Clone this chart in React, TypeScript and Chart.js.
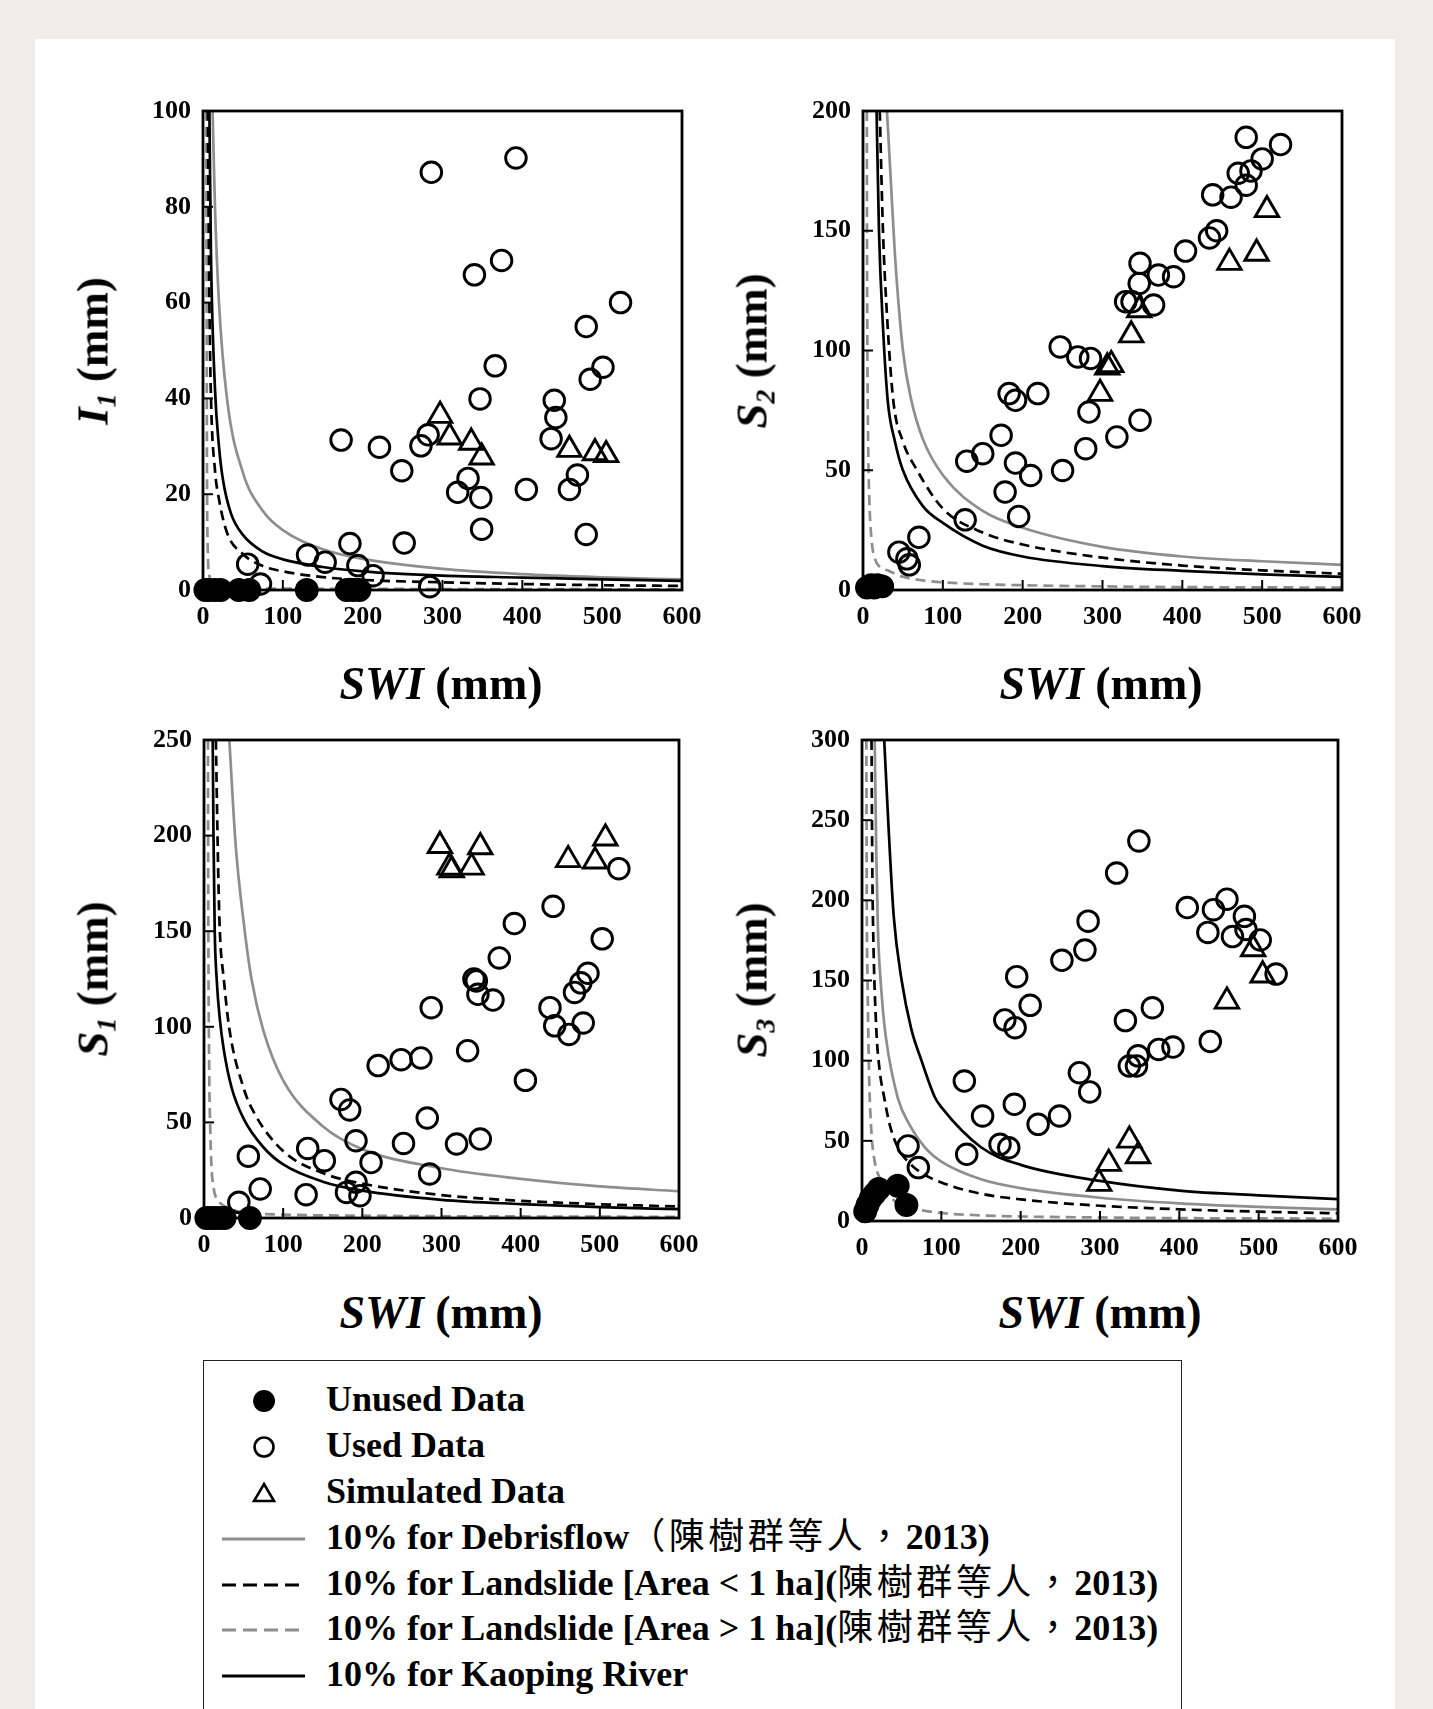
import React, { useEffect, useRef } from 'react';
import { Chart, registerables } from 'chart.js';
Chart.register(...registerables);

const FONT = '"Liberation Serif", "Times New Roman", serif';
const CJK = '"Noto Sans CJK TC", "Noto Sans CJK SC", sans-serif';

// ---------- Panel 1 : I1 ----------
const p1UnusedX = [3, 8, 15, 22, 45, 58, 130, 180, 188, 196];
const p1UnusedY = [0, 0, 0, 0, 0, 0, 0, 0, 0, 0];
const p1UsedX = [286, 392, 340, 374, 523, 480, 366, 501, 485, 347, 440, 442, 436, 173, 221, 273, 282, 249, 332, 319, 348, 405, 459, 469, 349, 480, 184, 252, 131, 153, 56, 194, 213, 72, 284];
const p1UsedY = [87.2, 90.2, 65.8, 68.8, 60, 55, 46.8, 46.5, 44, 39.9, 39.6, 36, 31.6, 31.3, 29.8, 30.1, 32.4, 24.9, 23.3, 20.4, 19.3, 21, 21, 24, 12.7, 11.6, 9.7, 9.8, 7.3, 5.8, 5.4, 5.1, 3, 1.25, 0.7];
const p1SimX = [297, 309, 336, 349, 459, 491, 505];
const p1SimY = [36.4, 31.9, 30.8, 27.7, 29.3, 28.6, 28.2];
const p1DebrisX = [12, 15, 20, 30, 50, 75, 100, 150, 200, 300, 400, 500, 600];
const p1DebrisY = [100, 80, 60, 40, 24.5, 16.5, 12.5, 8.5, 6.5, 4.4, 3.3, 2.65, 2.2];
const p1SmallX = [6, 8, 10, 15, 20, 30, 50, 75, 100, 150, 200, 300, 400, 500, 600];
const p1SmallY = [100, 60, 40, 25, 19, 12, 7.5, 5, 3.9, 2.7, 2.1, 1.6, 1.25, 1.0, 0.85];
const p1LargeX = [4, 4.5, 5, 6, 8, 10, 20, 50, 100, 300, 600];
const p1LargeY = [100, 60, 25, 8, 3, 1.6, 0.8, 0.4, 0.3, 0.2, 0.15];
const p1KaopingX = [8, 10, 15, 20, 25, 35, 50, 75, 100, 150, 200, 300, 400, 500, 600];
const p1KaopingY = [100, 70, 42, 30, 23, 16, 11.5, 8, 6.4, 4.8, 3.9, 3.0, 2.6, 2.2, 1.9];

// ---------- Panel 2 : S2 ----------
const p2UnusedX = [5, 10, 14, 18, 24];
const p2UnusedY = [1, 2, 1, 2, 1.5];
const p2UsedX = [480, 523, 500, 486, 470, 480, 461, 438, 443, 434, 404, 389, 370, 347, 346, 329, 337, 364, 247, 269, 285, 183, 191, 219, 283, 347, 173, 318, 279, 150, 130, 191, 210, 250, 178, 195, 128, 70, 45, 55, 58];
const p2UsedY = [189, 186, 180, 175, 174, 169, 164, 165, 150, 147, 141.5, 130.8, 131.5, 136.4, 128, 120.4, 120.4, 119, 101.5, 97.3, 96.7, 82, 79.2, 82, 74.3, 70.9, 64.6, 63.9, 59, 56.9, 53.8, 53, 47.8, 49.9, 40.9, 30.7, 29.3, 22, 15.8, 13, 10.5];
const p2SimX = [506, 493, 459, 346, 336, 306, 311, 297];
const p2SimY = [158.7, 140.5, 136.7, 116.9, 106.4, 93, 94, 82];
const p2DebrisX = [30, 35, 40, 50, 60, 75, 100, 150, 200, 300, 400, 500, 600];
const p2DebrisY = [200, 170, 140, 100, 80, 63, 48, 33, 26, 18, 14, 12, 10.5];
const p2SmallX = [21, 25, 30, 38, 50, 66, 100, 150, 200, 300, 400, 500, 600];
const p2SmallY = [200, 150, 115, 79, 62, 51, 34, 24, 19, 13.5, 10.2, 8.2, 6.8];
const p2LargeX = [4.8, 5, 5.5, 6.5, 8, 11, 15, 20, 32, 50, 75, 100, 150, 200, 300, 400, 500, 600];
const p2LargeY = [200, 150, 100, 60, 37, 20, 13, 10, 8, 5.5, 4, 3.2, 2.4, 2, 1.5, 1.2, 1.1, 1.0];
const p2KaopingX = [17, 20, 25, 31, 40, 50, 75, 100, 150, 200, 300, 400, 500, 600];
const p2KaopingY = [200, 150, 110, 79, 62, 50, 35, 28, 18.5, 14, 10, 8, 6.5, 5.5];

// ---------- Panel 3 : S1 ----------
const p3UnusedX = [3, 8, 14, 20, 26, 58];
const p3UnusedY = [0, 0, 0, 0, 0, 0];
const p3UsedX = [524, 441, 392, 503, 373, 341, 344, 346, 365, 287, 485, 476, 468, 437, 443, 461, 479, 333, 220, 249, 274, 406, 173, 184, 282, 192, 252, 319, 349, 131, 56, 152, 211, 285, 192, 180, 197, 129, 71, 44];
const p3UsedY = [182.7, 163, 154, 146, 136, 125, 124, 117, 114, 110, 128, 123, 118, 110, 100.5, 96, 102, 87.5, 79.7, 82.8, 83.7, 72, 62, 56.5, 52.3, 40.4, 39, 38.7, 41.3, 36.4, 32.3, 30, 29, 23, 18.7, 13.4, 11.7, 12.2, 15.2, 8.2];
const p3SimX = [298, 310, 313, 349, 338, 460, 507, 494];
const p3SimY = [194.7, 183.4, 182, 194, 183.4, 187.3, 198.6, 186.6];
const p3DebrisX = [32, 40, 50, 60, 75, 100, 150, 200, 300, 400, 500, 600];
const p3DebrisY = [250, 195, 155, 125, 98, 72, 48, 36, 26, 20.5, 16.5, 14];
const p3SmallX = [15, 18, 20, 25, 32, 50, 64, 100, 150, 200, 300, 400, 500, 600];
const p3SmallY = [250, 180, 150, 125, 99, 68, 54.5, 35, 23.5, 18, 12, 9, 7.2, 6];
const p3LargeX = [5, 5.5, 6.5, 8, 9.3, 12, 16, 22, 35, 50, 100, 200, 400, 600];
const p3LargeY = [250, 150, 80, 45, 28, 16, 10, 7.3, 4.5, 3, 1.8, 1.2, 0.8, 0.6];
const p3KaopingX = [11, 12, 13.5, 16, 20, 25, 35, 50, 75, 100, 150, 200, 300, 400, 500, 600];
const p3KaopingY = [250, 200, 151, 125, 104, 88, 68, 52, 37, 28, 19, 14.3, 9.5, 7.3, 5.7, 4.6];

// ---------- Panel 4 : S3 ----------
const p4UnusedX = [4, 7, 11, 16, 21, 45, 56];
const p4UnusedY = [6, 10, 14, 17, 20, 22, 10];
const p4UsedX = [349, 321, 285, 281, 252, 195, 212, 180, 193, 366, 332, 392, 374, 348, 337, 346, 274, 287, 129, 192, 152, 249, 222, 174, 185, 132, 58, 71, 460, 410, 443, 482, 436, 467, 484, 502, 522, 439];
const p4UsedY = [237, 217, 187, 169, 162.6, 152.4, 134.5, 125.4, 120.6, 133, 125, 108.5, 107, 103, 96.7, 96.7, 92.5, 80.5, 87.3, 72.8, 65.5, 65.5, 60.3, 47.8, 45.7, 41.6, 46.8, 33.3, 200.7, 195.5, 194.2, 190, 180, 177.4, 181.8, 175.3, 154, 112];
const p4SimX = [337, 348, 311, 299, 493, 505, 460];
const p4SimY = [50.3, 40.5, 35.8, 23.3, 169.6, 153.3, 137];
const p4DebrisX = [16, 18, 20, 25, 30, 45, 60, 79, 100, 150, 200, 300, 400, 500, 600];
const p4DebrisY = [300, 230, 183, 140, 115, 77, 60, 46, 37, 26, 20.5, 14.5, 11, 8.8, 7.3];
const p4SmallX = [12, 13, 14, 18, 22, 28, 35, 45, 60, 75, 100, 150, 200, 300, 400, 500, 600];
const p4SmallY = [300, 220, 183, 120, 95, 77, 60, 46, 36, 30, 24, 17, 13.5, 9.5, 7.3, 5.8, 4.8];
const p4LargeX = [5.5, 6, 7, 9, 11.8, 15, 24, 41, 60, 96, 150, 200, 300, 400, 600];
const p4LargeY = [300, 200, 150, 90, 56, 40, 25, 12.5, 8.5, 5.2, 3.5, 2.8, 2.2, 1.8, 1.5];
const p4KaopingX = [28, 33, 40, 50, 62, 75, 92, 100, 150, 200, 300, 400, 500, 600];
const p4KaopingY = [300, 250, 190, 150, 120, 100, 77, 71, 46, 35, 25, 19, 16, 13.7];

const xMax = 600;
const xStep = 100;

const legendLabels = [
  'Unused Data',
  'Used Data',
  'Simulated Data',
];

const zip = (xs: number[], ys: number[]) => xs.map((x, i) => ({ x, y: ys[i] }));

type PanelDef = {
  rect: { l: number; t: number; r: number; b: number };
  yMax: number;
  yStep: number;
  unused: [number[], number[]];
  used: [number[], number[]];
  sim: [number[], number[]];
  debris: [number[], number[]];
  small: [number[], number[]];
  large: [number[], number[]];
  kaoping: [number[], number[]];
};

const panels: PanelDef[] = [
  { rect: { l: 203, t: 111, r: 682, b: 590 }, yMax: 100, yStep: 20,
    unused: [p1UnusedX, p1UnusedY], used: [p1UsedX, p1UsedY], sim: [p1SimX, p1SimY],
    debris: [p1DebrisX, p1DebrisY], small: [p1SmallX, p1SmallY], large: [p1LargeX, p1LargeY], kaoping: [p1KaopingX, p1KaopingY] },
  { rect: { l: 863, t: 111, r: 1342, b: 590 }, yMax: 200, yStep: 50,
    unused: [p2UnusedX, p2UnusedY], used: [p2UsedX, p2UsedY], sim: [p2SimX, p2SimY],
    debris: [p2DebrisX, p2DebrisY], small: [p2SmallX, p2SmallY], large: [p2LargeX, p2LargeY], kaoping: [p2KaopingX, p2KaopingY] },
  { rect: { l: 204, t: 740, r: 679, b: 1218 }, yMax: 250, yStep: 50,
    unused: [p3UnusedX, p3UnusedY], used: [p3UsedX, p3UsedY], sim: [p3SimX, p3SimY],
    debris: [p3DebrisX, p3DebrisY], small: [p3SmallX, p3SmallY], large: [p3LargeX, p3LargeY], kaoping: [p3KaopingX, p3KaopingY] },
  { rect: { l: 862, t: 740, r: 1338, b: 1221 }, yMax: 300, yStep: 50,
    unused: [p4UnusedX, p4UnusedY], used: [p4UsedX, p4UsedY], sim: [p4SimX, p4SimY],
    debris: [p4DebrisX, p4DebrisY], small: [p4SmallX, p4SmallY], large: [p4LargeX, p4LargeY], kaoping: [p4KaopingX, p4KaopingY] },
];

const PAD_L = 100, PAD_T = 40, PAD_R = 50, PAD_B = 50;
const GRAY = '#8e8e8e';

const framePlugin = {
  id: 'frame',
  afterDatasetsDraw(chart: any) {
    const { ctx, chartArea: a, scales } = chart;
    ctx.save();
    ctx.strokeStyle = '#000';
    ctx.lineWidth = 2;
    const ys = scales.y;
    ys.ticks.forEach((t: any) => {
      if (t.value > ys.min && t.value < ys.max) {
        const y = ys.getPixelForValue(t.value);
        ctx.beginPath(); ctx.moveTo(a.left, y); ctx.lineTo(a.left + 10, y); ctx.stroke();
      }
    });
    const xs = scales.x;
    xs.ticks.forEach((t: any) => {
      if (t.value > xs.min && t.value < xs.max) {
        const x = xs.getPixelForValue(t.value);
        ctx.beginPath(); ctx.moveTo(x, a.bottom); ctx.lineTo(x, a.bottom - 10); ctx.stroke();
      }
    });
    ctx.lineWidth = 2.8;
    ctx.strokeRect(a.left, a.top, a.right - a.left, a.bottom - a.top);
    ctx.restore();
  },
};

function Panel({ def }: { def: PanelDef }) {
  const ref = useRef<HTMLCanvasElement | null>(null);
  const { l, t, r, b } = def.rect;
  const w = r - l + PAD_L + PAD_R;
  const h = b - t + PAD_T + PAD_B;
  useEffect(() => {
    if (!ref.current) return;
    const marker = (data: any, style: string, fill: string, radius: number) => ({
      data, showLine: false, pointStyle: style, pointRadius: radius, pointHoverRadius: radius,
      pointBorderWidth: 2.9, pointBorderColor: '#000', pointBackgroundColor: fill, clip: false as any,
    });
    const curve = (data: any, color: string, dash: number[]) => ({
      data, showLine: true, pointRadius: 0, borderColor: color, borderWidth: 2.7,
      borderDash: dash, cubicInterpolationMode: 'monotone' as const, fill: false,
    });
    const tickFont = { family: FONT, weight: 'bold' as const, size: 26 };
    const chart = new Chart(ref.current, {
      type: 'scatter',
      data: {
        datasets: [
          marker(zip(def.unused[0], def.unused[1]), 'circle', '#000', 10.5),
          marker(zip(def.used[0], def.used[1]), 'circle', 'rgba(0,0,0,0)', 10.3),
          marker(zip(def.sim[0], def.sim[1]), 'triangle', 'rgba(0,0,0,0)', 13.5),
          curve(zip(def.kaoping[0], def.kaoping[1]), '#000', []),
          curve(zip(def.small[0], def.small[1]), '#000', [10, 6]),
          curve(zip(def.large[0], def.large[1]), GRAY, [10, 6]),
          curve(zip(def.debris[0], def.debris[1]), GRAY, []),
        ] as any,
      },
      options: {
        responsive: false,
        animation: false,
        layout: { padding: { left: 0, top: PAD_T, right: PAD_R, bottom: 0 } },
        plugins: { legend: { display: false }, tooltip: { enabled: false } },
        scales: {
          x: {
            type: 'linear', min: 0, max: xMax,
            afterFit: (s: any) => { s.height = PAD_B; },
            grid: { display: false, drawTicks: false },
            border: { display: false },
            ticks: { stepSize: xStep, padding: 12, color: '#000', font: tickFont, maxRotation: 0, autoSkip: false },
          },
          y: {
            type: 'linear', min: 0, max: def.yMax,
            afterFit: (s: any) => { s.width = PAD_L; },
            grid: { display: false, drawTicks: false },
            border: { display: false },
            ticks: { stepSize: def.yStep, padding: 12, color: '#000', font: tickFont, autoSkip: false },
          },
        },
      },
      plugins: [framePlugin],
    });
    return () => chart.destroy();
  }, []);
  return (
    <canvas
      ref={ref}
      width={w}
      height={h}
      style={{ position: 'absolute', left: l - PAD_L, top: t - PAD_T, width: w, height: h }}
    />
  );
}

const titleStyle: React.CSSProperties = {
  position: 'absolute', font: `bold 46px ${FONT}`, whiteSpace: 'nowrap', lineHeight: 1, color: '#000',
};
const subStyle: React.CSSProperties = { fontSize: '0.62em', verticalAlign: '-0.28em', lineHeight: 0 };

function XTitle({ cx, cy }: { cx: number; cy: number }) {
  return (
    <div style={{ ...titleStyle, left: cx, top: cy, transform: 'translate(-50%,-50%)' }}>
      <i>SWI</i> (mm)
    </div>
  );
}
function YTitle({ cx, cy, main, sub }: { cx: number; cy: number; main: string; sub: string }) {
  return (
    <div style={{ ...titleStyle, fontSize: 45, left: cx, top: cy, transform: 'translate(-50%,-50%) rotate(-90deg)' }}>
      <i>{main}<sub style={subStyle}>{sub}</sub></i> (mm)
    </div>
  );
}

const rowCenters = [1400, 1446, 1492, 1538, 1584, 1629, 1675];

function LegendRow({ idx, symbol, children }: { idx: number; symbol: React.ReactNode; children: React.ReactNode }) {
  const top = rowCenters[idx] - 1360 - 23;
  return (
    <div style={{ position: 'absolute', left: 0, top, height: 46, width: 970 }}>
      <svg width={110} height={46} style={{ position: 'absolute', left: 10, top: 0 }}>{symbol}</svg>
      <div style={{ position: 'absolute', left: 122, top: 0, height: 46, lineHeight: '46px', font: `bold 36px ${FONT}`, whiteSpace: 'nowrap', color: '#000' }}>
        {children}
      </div>
    </div>
  );
}

const cjk: React.CSSProperties = { fontFamily: CJK, fontWeight: 400, fontSize: 36, letterSpacing: 3.5, lineHeight: 0 };

export default function App() {
  const cx = 263 - 213;
  return (
    <div style={{ position: 'absolute', left: 0, top: 0, width: 1433, height: 1709, background: '#f0ede8', overflow: 'hidden' }}>
      <div style={{ position: 'absolute', left: 35, top: 39, width: 1360, height: 1700, background: '#fff' }} />
      {panels.map((p, i) => <Panel key={i} def={p} />)}
      <XTitle cx={441} cy={684} />
      <XTitle cx={1101} cy={684} />
      <XTitle cx={441} cy={1313} />
      <XTitle cx={1100} cy={1313} />
      <YTitle cx={93} cy={351} main="I" sub="1" />
      <YTitle cx={752} cy={351} main="S" sub="2" />
      <YTitle cx={93} cy={979} main="S" sub="1" />
      <YTitle cx={752} cy={980} main="S" sub="3" />
      <div style={{ position: 'absolute', left: 203, top: 1360, width: 977, height: 400, border: '1.5px solid #222', background: '#fff' }}>
        <LegendRow idx={0} symbol={<circle cx={cx} cy={23} r={11} fill="#000" />}>{legendLabels[0]}</LegendRow>
        <LegendRow idx={1} symbol={<circle cx={cx} cy={23} r={9.5} fill="none" stroke="#000" strokeWidth={2.6} />}>{legendLabels[1]}</LegendRow>
        <LegendRow idx={2} symbol={<polygon points={`${cx},${14} ${cx + 10},${31} ${cx - 10},${31}`} fill="none" stroke="#000" strokeWidth={2.6} />}>{legendLabels[2]}</LegendRow>
        <LegendRow idx={3} symbol={<line x1={8} y1={23} x2={91} y2={23} stroke={GRAY} strokeWidth={3} />}>
          10% for Debrisflow<span style={cjk}>（陳樹群等人，</span>2013)
        </LegendRow>
        <LegendRow idx={4} symbol={<line x1={8} y1={23} x2={91} y2={23} stroke="#000" strokeWidth={3} strokeDasharray="14 7" />}>
          10% for Landslide [Area &lt; 1 ha](<span style={cjk}>陳樹群等人，</span>2013)
        </LegendRow>
        <LegendRow idx={5} symbol={<line x1={8} y1={23} x2={91} y2={23} stroke={GRAY} strokeWidth={3} strokeDasharray="14 7" />}>
          10% for Landslide [Area &gt; 1 ha](<span style={cjk}>陳樹群等人，</span>2013)
        </LegendRow>
        <LegendRow idx={6} symbol={<line x1={8} y1={23} x2={91} y2={23} stroke="#000" strokeWidth={3} />}>
          10% for Kaoping River
        </LegendRow>
      </div>
    </div>
  );
}
